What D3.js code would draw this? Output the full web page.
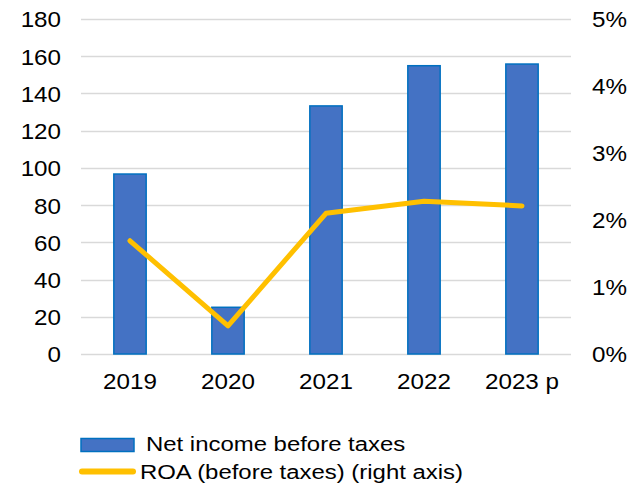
<!DOCTYPE html>
<html>
<head>
<meta charset="utf-8">
<script src="https://cdn.jsdelivr.net/npm/d3@7"></script>
<style>
  body { margin: 0; background: #fff; }
  text { font-family: "Liberation Sans", Arial, sans-serif; fill: #000; }
</style>
</head>
<body>
<div id="chart"></div>
<script>
var years = ["2019", "2020", "2021", "2022", "2023 p"];
var netIncome = [96.7, 25.1, 133.3, 154.9, 155.8];
var roa = [0.0169, 0.0042, 0.021, 0.0228, 0.0221];
var leftTicks = [0, 20, 40, 60, 80, 100, 120, 140, 160, 180];
var rightTicks = [0, 0.01, 0.02, 0.03, 0.04, 0.05];
var seriesNames = ["Net income before taxes", "ROA (before taxes) (right axis)"];

var width = 633, height = 486;
var margin = {top: 19, right: 62, bottom: 132, left: 81};
var plotW = width - margin.left - margin.right,
    plotH = height - margin.top - margin.bottom;

// the original text is a bit wider than plain Arial, stretch it around its anchor
function stretch(sel, k) {
    sel.each(function () {
        var t = d3.select(this);
        var ax = +(t.attr("x") || 0);
        t.attr("transform", "translate(" + ax + ",0) scale(" + k + ",1) translate(" + (-ax) + ",0)");
    });
}

var svg = d3.select("#chart").append("svg")
    .attr("width", width)
    .attr("height", height);

var main = svg.append("g")
    .attr("transform", "translate(" + margin.left + "," + margin.top + ")");

var x = d3.scaleBand()
    .domain(years)
    .range([0, plotW])
    .paddingInner(0.67)
    .paddingOuter(0.335);

var y = d3.scaleLinear().domain([0, 180]).range([plotH, 0]);
var y2 = d3.scaleLinear().domain([0, 0.05]).range([plotH, 0]);

// gridlines
main.append("g")
    .selectAll("line")
    .data(leftTicks)
    .enter().append("line")
    .attr("x1", 0)
    .attr("x2", plotW)
    .attr("y1", function (d) { return Math.round(y(d)) + 0.5; })
    .attr("y2", function (d) { return Math.round(y(d)) + 0.5; })
    .style("stroke", "#d9d9d9")
    .style("stroke-width", 1.5);

// left axis
var leftAxis = main.append("g")
    .call(d3.axisLeft(y).tickValues(leftTicks).tickSize(0).tickPadding(20));
leftAxis.select(".domain").remove();
leftAxis.selectAll("text").style("font-size", "22px").attr("dy", "0.36em")
    .call(stretch, 1.1);

// right axis
var rightAxis = main.append("g")
    .attr("transform", "translate(" + plotW + ",0)")
    .call(d3.axisRight(y2).tickValues(rightTicks).tickFormat(d3.format(".0%")).tickSize(0).tickPadding(21));
rightAxis.select(".domain").remove();
rightAxis.selectAll("text").style("font-size", "22px").attr("dy", "0.36em")
    .call(stretch, 1.1);

// bottom axis
var bottomAxis = main.append("g")
    .attr("transform", "translate(0," + plotH + ")")
    .call(d3.axisBottom(x).tickSize(0).tickPadding(19));
bottomAxis.select(".domain").remove();
bottomAxis.selectAll("text").style("font-size", "22px")
    .call(stretch, 1.1);

// bars
main.append("g")
    .selectAll("rect")
    .data(netIncome)
    .enter().append("rect")
    .attr("x", function (d, i) { return x(years[i]); })
    .attr("width", x.bandwidth())
    .attr("y", function (d) { return y(d); })
    .attr("height", function (d) { return plotH - y(d); })
    .style("fill", "#4472c4")
    .style("stroke", "#0070c0")
    .style("stroke-width", 1.5);

// ROA line
var line = d3.line()
    .x(function (d, i) { return x(years[i]) + x.bandwidth() / 2; })
    .y(function (d) { return y2(d); });

main.append("path")
    .datum(roa)
    .attr("d", line)
    .style("fill", "none")
    .style("stroke", "#ffc000")
    .style("stroke-width", 5)
    .style("stroke-linejoin", "round")
    .style("stroke-linecap", "round");

// legend
var legend = svg.append("g");
legend.append("rect")
    .attr("x", 81).attr("y", 438.5)
    .attr("width", 53).attr("height", 13)
    .style("fill", "#4472c4")
    .style("stroke", "#0070c0")
    .style("stroke-width", 1.5);
legend.append("text")
    .attr("x", 146).attr("y", 451)
    .style("font-size", "21px")
    .text(seriesNames[0])
    .call(stretch, 1.14);
legend.append("line")
    .attr("x1", 82).attr("x2", 133)
    .attr("y1", 471.5).attr("y2", 471.5)
    .style("stroke", "#ffc000")
    .style("stroke-width", 6)
    .style("stroke-linecap", "round");
legend.append("text")
    .attr("x", 140).attr("y", 479)
    .style("font-size", "21px")
    .text(seriesNames[1])
    .call(stretch, 1.14);
</script>
</body>
</html>
